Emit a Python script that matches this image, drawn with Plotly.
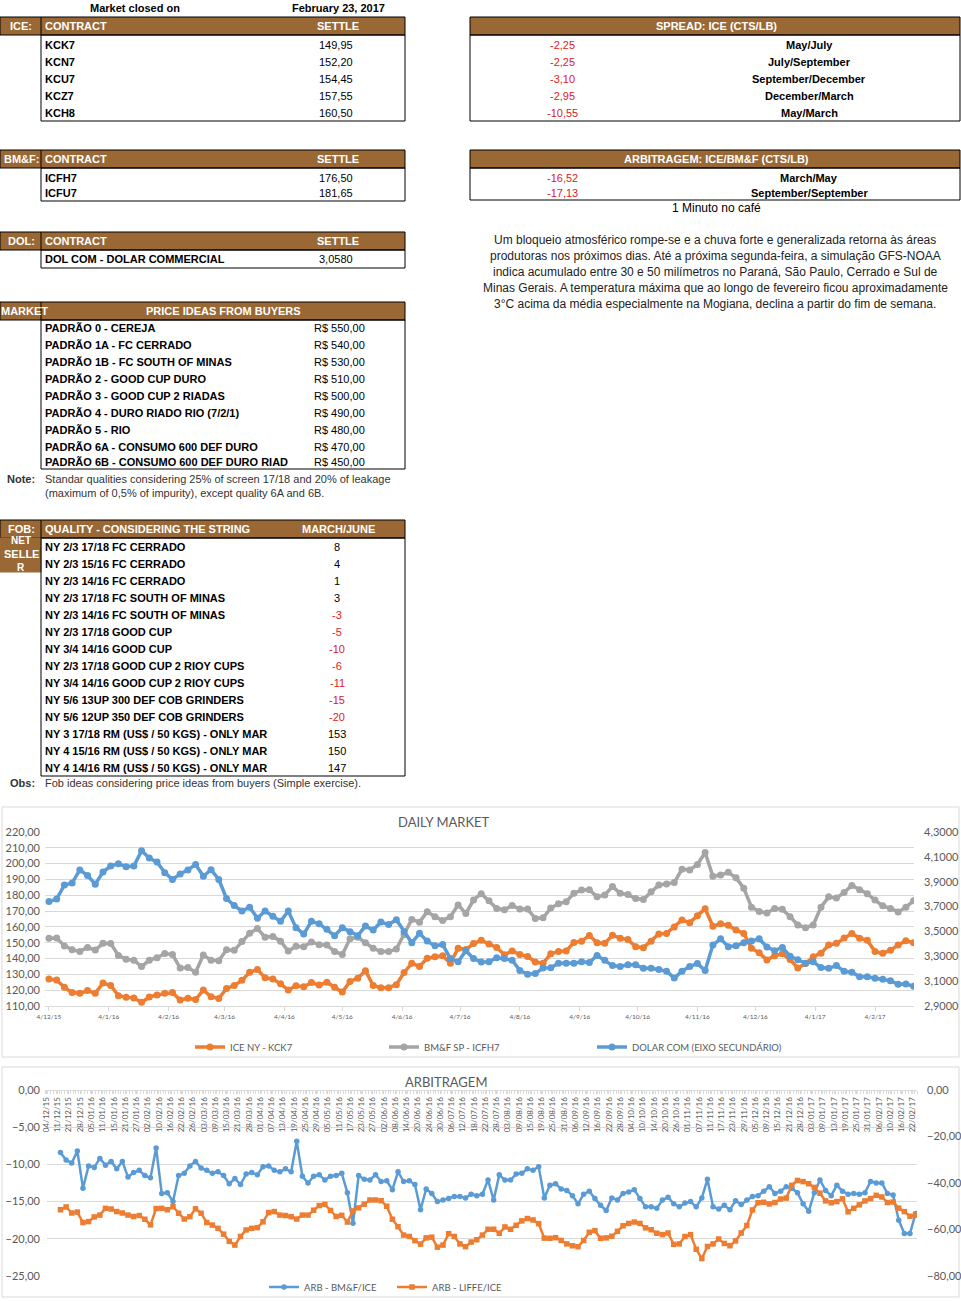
import pandas as pd
import plotly.graph_objects as go

# ---------------- report data ----------------
closed_label = "Market closed on"
closed_date = "February 23, 2017"

ice_contracts = ["KCK7", "KCN7", "KCU7", "KCZ7", "KCH8"]
ice_settle = [149.95, 152.20, 154.45, 157.55, 160.50]
bmf_contracts = ["ICFH7", "ICFU7"]
bmf_settle = [176.50, 181.65]
dol_contracts = ["DOL COM - DOLAR COMMERCIAL"]
dol_settle = [3.0580]

spread_values = [-2.25, -2.25, -3.10, -2.95, -10.55]
spread_labels = ["May/July", "July/September", "September/December", "December/March", "May/March"]
arb_values = [-16.52, -17.13]
arb_labels = ["March/May", "September/September"]

price_qualities = [
    "PADRÃO 0 - CEREJA", "PADRÃO 1A - FC CERRADO", "PADRÃO 1B - FC SOUTH OF MINAS",
    "PADRÃO 2 - GOOD CUP DURO", "PADRÃO 3 - GOOD CUP 2 RIADAS", "PADRÃO 4 - DURO RIADO RIO (7/2/1)",
    "PADRÃO 5 - RIO", "PADRÃO 6A - CONSUMO 600 DEF DURO", "PADRÃO 6B - CONSUMO 600 DEF DURO RIAD",
]
price_values = [550, 540, 530, 510, 500, 490, 480, 470, 450]
price_note = ["Standar qualities considering 25% of screen 17/18 and 20% of leakage",
              "(maximum of 0,5% of impurity), except quality 6A and 6B."]

fob_qualities = [
    "NY 2/3 17/18 FC CERRADO", "NY 2/3 15/16 FC CERRADO", "NY 2/3 14/16 FC CERRADO",
    "NY 2/3 17/18 FC SOUTH OF MINAS", "NY 2/3 14/16 FC SOUTH OF MINAS", "NY 2/3 17/18 GOOD CUP",
    "NY 3/4 14/16 GOOD CUP", "NY 2/3 17/18 GOOD CUP 2 RIOY CUPS", "NY 3/4 14/16 GOOD CUP 2 RIOY CUPS",
    "NY 5/6 13UP 300 DEF COB GRINDERS", "NY 5/6 12UP 350 DEF COB GRINDERS",
    "NY 3 17/18 RM (US$ / 50 KGS) - ONLY MAR", "NY 4 15/16 RM (US$ / 50 KGS) - ONLY MAR",
    "NY 4 14/16 RM (US$ / 50 KGS) - ONLY MAR",
]
fob_values = [8, 4, 1, 3, -3, -5, -10, -6, -11, -15, -20, 153, 150, 147]
fob_obs = "Fob ideas considering price ideas from buyers (Simple exercise)."

comment_title = "1 Minuto no café"
comment_lines = [
    "Um bloqueio atmosférico rompe-se e a chuva forte e generalizada retorna às áreas",
    "produtoras nos próximos dias. Até a próxima segunda-feira, a simulação GFS-NOAA",
    "indica acumulado entre 30 e 50 milímetros no Paraná, São Paulo, Cerrado e Sul de",
    "Minas Gerais. A temperatura máxima que ao longo de fevereiro ficou aproximadamente",
    "3°C acima da média especialmente na Mogiana, declina a partir do fim de semana.",
]

# ---------------- daily market (one reading every 4 days) ----------------
daily_dates = pd.date_range("2015-12-04", periods=113, freq="4D")
ice_ny = [
    127.1, 126.4, 121.8, 118.5, 118.0, 119.8, 118.0, 124.5, 123.0, 116.5,
    115.6, 115.0, 112.3, 115.7, 117.0, 118.0, 118.5, 113.8, 114.9, 114.1,
    120.1, 115.8, 114.8, 121.0, 123.0, 126.2, 131.3, 133.0, 127.8, 127.1,
    124.0, 120.1, 122.8, 122.2, 124.8, 123.2, 125.0, 121.8, 118.8, 125.5,
    127.6, 132.3, 123.0, 121.6, 121.6, 123.5, 131.2, 137.0, 135.0, 140.2,
    141.2, 141.8, 137.0, 146.5, 145.7, 149.5, 151.5, 149.2, 147.0, 142.4,
    144.8, 142.5, 141.3, 137.8, 137.0, 143.0, 144.5, 144.8, 150.2, 151.0,
    154.6, 150.0, 149.6, 154.8, 152.8, 152.0, 147.4, 146.9, 150.9, 155.5,
    155.9, 160.0, 164.4, 162.7, 167.0, 171.5, 160.4, 162.0, 161.0, 158.0,
    155.9, 146.5, 143.6, 139.1, 141.8, 143.0, 139.4, 134.0, 136.8, 141.2,
    143.4, 148.5, 149.6, 153.0, 155.9, 152.8, 151.5, 144.4, 143.3, 145.3,
    148.6, 151.2, 149.95,
]
bmf_sp = [
    152.8, 153.0, 148.0, 145.6, 144.5, 147.0, 145.4, 149.6, 149.5, 142.0,
    139.5, 139.0, 134.9, 139.0, 140.5, 143.2, 142.5, 134.0, 134.3, 131.3,
    142.2, 139.0, 138.6, 145.5, 145.2, 150.8, 156.0, 159.0, 153.5, 154.0,
    151.0, 144.7, 147.8, 147.5, 150.5, 148.8, 148.5, 144.5, 142.6, 152.5,
    153.5, 150.0, 146.5, 144.4, 144.4, 146.0, 155.0, 164.7, 163.0, 169.6,
    166.5, 164.0, 166.5, 173.9, 168.5, 177.0, 181.0, 176.5, 171.7, 170.8,
    173.5, 171.3, 171.3, 165.3, 165.8, 171.9, 174.6, 175.9, 181.3, 183.3,
    183.5, 179.0, 180.2, 185.5, 181.2, 180.5, 177.9, 177.4, 182.3, 186.5,
    187.2, 188.0, 196.5, 196.0, 199.5, 207.0, 192.0, 192.8, 194.5, 191.0,
    184.5, 172.5, 169.8, 168.8, 171.6, 171.2, 166.5, 161.2, 159.5, 161.2,
    172.5, 179.0, 178.2, 181.8, 186.2, 183.5, 181.0, 177.0, 173.3, 171.7,
    169.5, 172.5, 176.5,
]
dolar_com = [
    3.740, 3.760, 3.874, 3.889, 3.995, 3.950, 3.880, 3.978, 4.026, 4.045,
    4.020, 4.026, 4.150, 4.090, 4.058, 3.973, 3.918, 3.963, 3.995, 4.039,
    3.944, 3.997, 3.918, 3.765, 3.708, 3.664, 3.695, 3.606, 3.664, 3.623,
    3.581, 3.664, 3.530, 3.479, 3.581, 3.562, 3.517, 3.466, 3.530, 3.498,
    3.466, 3.543, 3.511, 3.575, 3.555, 3.594, 3.498, 3.409, 3.485, 3.422,
    3.384, 3.394, 3.282, 3.256, 3.345, 3.282, 3.254, 3.256, 3.289, 3.282,
    3.269, 3.186, 3.155, 3.161, 3.205, 3.208, 3.244, 3.244, 3.244, 3.256,
    3.250, 3.307, 3.269, 3.225, 3.218, 3.231, 3.231, 3.203, 3.204, 3.193,
    3.180, 3.125, 3.180, 3.218, 3.241, 3.186, 3.390, 3.441, 3.377, 3.384,
    3.409, 3.422, 3.441, 3.375, 3.345, 3.371, 3.301, 3.272, 3.244, 3.256,
    3.209, 3.203, 3.225, 3.180, 3.172, 3.136, 3.135, 3.123, 3.116, 3.104,
    3.074, 3.078, 3.058,
]

# ---------------- arbitragem (category axis, every 2nd session) ----------------
arb_ticktext = [
    "04/12/15", "11/12/15", "21/12/15", "28/12/15", "05/01/16", "11/01/16", "15/01/16", "21/01/16",
    "27/01/16", "02/02/16", "10/02/16", "16/02/16", "22/02/16", "26/02/16", "03/03/16", "09/03/16",
    "15/03/16", "21/03/16", "28/03/16", "01/04/16", "07/04/16", "13/04/16", "19/04/16", "25/04/16",
    "29/04/16", "05/05/16", "11/05/16", "17/05/16", "23/05/16", "27/05/16", "02/06/16", "08/06/16",
    "14/06/16", "20/06/16", "24/06/16", "30/06/16", "06/07/16", "12/07/16", "18/07/16", "22/07/16",
    "28/07/16", "03/08/16", "09/08/16", "15/08/16", "19/08/16", "25/08/16", "31/08/16", "06/09/16",
    "12/09/16", "16/09/16", "22/09/16", "28/09/16", "04/10/16", "10/10/16", "14/10/16", "20/10/16",
    "26/10/16", "01/11/16", "07/11/16", "11/11/16", "17/11/16", "23/11/16", "29/11/16", "05/12/16",
    "09/12/16", "15/12/16", "21/12/16", "28/12/16", "03/01/17", "09/01/17", "13/01/17", "19/01/17",
    "25/01/17", "31/01/17", "06/02/17", "10/02/17", "16/02/17", "22/02/17",
]
arb_sessions = list(range(5, 310, 2))
arb_bmf_ice = [
    -8.4, -9.4, -9.8, -8.2, -13.2, -10.2, -10.4, -9.2, -10.1, -9.6,
    -10.6, -9.6, -11.7, -11.1, -10.8, -11.5, -11.8, -7.8, -13.9, -13.8,
    -15.0, -11.5, -11.2, -10.2, -9.6, -10.5, -10.8, -11.2, -11.0, -11.5,
    -12.6, -11.9, -12.7, -11.3, -11.1, -11.4, -10.3, -10.2, -10.8, -11.0,
    -10.6, -11.0, -6.9, -11.6, -12.5, -11.6, -11.4, -12.1, -11.6, -11.5,
    -11.2, -13.8, -17.9, -11.5, -12.0, -12.1, -11.4, -12.3, -12.2, -13.4,
    -11.0, -12.3, -12.2, -12.7, -16.1, -13.3, -13.9, -15.0, -14.8, -14.6,
    -14.3, -14.3, -14.5, -14.0, -14.2, -14.0, -12.1, -14.8, -11.4, -12.1,
    -12.1, -11.3, -11.2, -10.6, -10.8, -10.3, -14.5, -12.8, -12.6, -13.3,
    -13.5, -14.2, -15.3, -14.0, -13.6, -14.6, -15.5, -16.2, -14.5, -14.8,
    -13.9, -13.7, -13.4, -14.6, -15.7, -15.7, -15.9, -14.8, -14.4, -15.3,
    -15.7, -15.2, -15.0, -15.7, -14.5, -12.0, -15.7, -16.0, -15.5, -16.1,
    -14.9, -15.4, -14.8, -14.3, -14.2, -13.6, -13.0, -13.9, -13.6, -13.0,
    -13.2, -13.8, -15.3, -16.3, -13.8, -12.1, -13.5, -14.2, -12.8, -13.6,
    -14.0, -13.9, -14.0, -13.8, -12.3, -12.5, -12.5, -13.9, -14.1, -17.5,
    -19.3, -19.3, -16.6,
]
arb_liffe_ice = [
    -51.5, -50.3, -52.9, -52.5, -57.0, -56.6, -54.6, -53.8, -50.9, -51.2,
    -52.3, -52.9, -53.8, -54.4, -54.0, -55.6, -58.0, -51.0, -50.9, -51.5,
    -50.2, -53.0, -55.5, -54.5, -51.1, -53.0, -57.0, -58.1, -59.5, -62.0,
    -65.1, -66.7, -63.0, -60.2, -59.5, -59.2, -56.7, -52.7, -52.3, -53.8,
    -54.0, -54.5, -55.5, -53.8, -53.8, -51.7, -49.7, -49.2, -51.8, -54.4,
    -53.9, -56.8, -52.0, -50.7, -49.1, -47.3, -47.3, -47.6, -50.0, -55.6,
    -58.8, -62.4, -63.0, -64.8, -66.3, -63.6, -63.3, -67.6, -66.7, -61.8,
    -63.0, -66.2, -67.4, -65.4, -64.4, -62.4, -59.9, -59.9, -61.6, -58.9,
    -59.9, -58.2, -56.3, -55.3, -55.9, -57.5, -63.7, -63.8, -63.5, -64.7,
    -66.2, -67.0, -67.4, -64.7, -61.2, -60.5, -63.8, -63.6, -62.9, -60.8,
    -58.4, -57.4, -56.8, -57.4, -59.3, -60.1, -61.6, -62.2, -61.5, -66.4,
    -66.2, -63.0, -62.2, -68.5, -72.5, -67.3, -66.2, -64.1, -66.0, -67.0,
    -64.9, -61.5, -58.3, -51.6, -48.5, -48.3, -49.0, -48.4, -46.9, -46.5,
    -41.0, -38.9, -39.4, -40.3, -41.9, -44.4, -47.7, -48.5, -48.0, -46.8,
    -52.4, -50.9, -49.4, -47.7, -46.7, -45.3, -46.0, -48.4, -48.2, -50.8,
    -52.3, -54.3, -53.8,
]

# ---------------- styling ----------------
W, H = 961, 1301
TFONT = "Liberation Sans"
CFONT = "Lato"
BROWN = "#9A6835"
RED = "#E0201E"
GRID = "#D9D9D9"
AXTXT = "#595959"
ORANGE, GRAY, BLUE = "#ED7D31", "#A5A5A5", "#5B9BD5"


def px(x):
    return x / W


def py(y):
    return 1 - y / H


def num(v, d=2):
    return f"{v:.{d}f}".replace(".", ",")


shapes, notes = [], []


def rect(x0, y0, x1, y1, fill=None, line="black", width=1):
    shapes.append(dict(type="rect", xref="paper", yref="paper", layer="below",
                       x0=px(x0), x1=px(x1), y0=py(y1), y1=py(y0),
                       fillcolor=fill or "rgba(0,0,0,0)", line=dict(color=line, width=width)))


def vline(x, y0, y1):
    shapes.append(dict(type="line", xref="paper", yref="paper", layer="below",
                       x0=px(x), x1=px(x), y0=py(y1), y1=py(y0), line=dict(color="black", width=1)))


def label(x, y, s, size=11, bold=False, color="black", align="left", family=TFONT):
    notes.append(dict(xref="paper", yref="paper", x=px(x), y=py(y), showarrow=False,
                      text=f"<b>{s}</b>" if bold else s, xanchor=align, yanchor="middle",
                      borderpad=0, font=dict(family=family, size=size, color=color)))


# header line
label(135, 8, closed_label, bold=True, align="center")
label(338, 8, closed_date, bold=True, align="center")


def settle_table(top, tag, names, values, row_y, bottom, digits=2):
    rect(0, top, 405, top + 18, fill=BROWN)
    rect(41, top + 18, 405, bottom)
    vline(41, top, top + 18)
    label(21, top + 9, tag, bold=True, color="white", align="center")
    label(44, top + 9, "CONTRACT", bold=True, color="white")
    label(338, top + 9, "SETTLE", bold=True, color="white", align="center")
    for y, n, v in zip(row_y, names, values):
        label(44, y, n, bold=True)
        label(336, y, num(v, digits), align="center")


settle_table(17, "ICE:", ice_contracts, ice_settle, [45, 62, 79, 96, 113], 121)
settle_table(150, "BM&F:", bmf_contracts, bmf_settle, [178, 193], 201)
settle_table(232, "DOL:", dol_contracts, dol_settle, [259], 268, digits=4)


def spread_table(top, title, values, names, row_y, bottom):
    rect(470, top, 960, top + 18, fill=BROWN)
    rect(470, top + 18, 960, bottom)
    label(716, top + 9, title, bold=True, color="white", align="center")
    for y, v, n in zip(row_y, values, names):
        label(562, y, num(v), color=RED, align="center")
        label(809, y, n, bold=True, align="center")


spread_table(17, "SPREAD: ICE (CTS/LB)", spread_values, spread_labels, [45, 62, 79, 96, 113], 121)
spread_table(150, "ARBITRAGEM: ICE/BM&F (CTS/LB)", arb_values, arb_labels, [178, 193], 200)

label(716, 208, comment_title, size=12, align="center")
for i, line in enumerate(comment_lines):
    label(715, 240 + 16 * i, line, size=12, color="#222222", align="center")

# price ideas
rect(0, 302, 405, 320, fill=BROWN)
rect(41, 320, 405, 469)
vline(41, 302, 320)
label(0, 311, "MARKET", bold=True, color="white")
label(223, 311, "PRICE IDEAS FROM BUYERS", bold=True, color="white", align="center")
price_y = [328, 345, 362, 379, 396, 413, 430, 447, 462]
for y, q, v in zip(price_y, price_qualities, price_values):
    label(44, y, q, bold=True)
    label(313, y, "R$ " + num(v))
label(36, 479, "Note:", bold=True, color="#333333", align="right")
label(44, 479, price_note[0], color="#333333")
label(44, 493, price_note[1], color="#333333")

# fob
rect(0, 520, 405, 538, fill=BROWN)
rect(0, 538, 41, 572, fill=BROWN, line=BROWN)
rect(41, 538, 405, 776)
vline(41, 520, 538)
label(21, 529, "FOB:", bold=True, color="white", align="center")
label(44, 529, "QUALITY - CONSIDERING THE STRING", bold=True, color="white")
label(338, 529, "MARCH/JUNE", bold=True, color="white", align="center")
label(21, 541, "NET", bold=True, color="white", align="center", size=10)
label(21, 554, "SELLE", bold=True, color="white", align="center")
label(21, 567, "R", bold=True, color="white", align="center", size=10)
for i, (q, v) in enumerate(zip(fob_qualities, fob_values)):
    y = 547 + 17 * i
    label(44, y, q, bold=True)
    label(337, y, str(v), color=RED if v < 0 else "black", align="center")
label(36, 783, "Obs:", bold=True, color="#333333", align="right")
label(44, 783, fob_obs, color="#333333")

# chart frames and titles
rect(2, 807, 959, 1057, line=GRID)
rect(2, 1067, 959, 1297, line=GRID)
label(444, 822, "DAILY MARKET", size=13, color=AXTXT, align="center", family=CFONT)
label(446, 1082, "ARBITRAGEM", size=13, color=AXTXT, align="center", family=CFONT)

fig = go.Figure()

fig.add_trace(go.Scatter(x=daily_dates, y=ice_ny, name="ICE NY - KCK7", mode="lines+markers",
                         line=dict(color=ORANGE, width=3.5), marker=dict(size=7, color=ORANGE),
                         xaxis="x", yaxis="y", legend="legend"))
fig.add_trace(go.Scatter(x=daily_dates, y=bmf_sp, name="BM&F SP - ICFH7", mode="lines+markers",
                         line=dict(color=GRAY, width=3.5), marker=dict(size=7, color=GRAY),
                         xaxis="x", yaxis="y", legend="legend2"))
fig.add_trace(go.Scatter(x=daily_dates, y=dolar_com, name="DOLAR COM (EIXO SECUNDÁRIO)",
                         mode="lines+markers", line=dict(color=BLUE, width=3.5),
                         marker=dict(size=7, color=BLUE), xaxis="x", yaxis="y2", legend="legend3"))
fig.add_trace(go.Scatter(x=arb_sessions, y=arb_liffe_ice, name="ARB - LIFFE/ICE", mode="lines+markers",
                         line=dict(color=ORANGE, width=2.5), marker=dict(size=5.5, symbol="square", color=ORANGE),
                         xaxis="x2", yaxis="y4", legend="legend5"))
fig.add_trace(go.Scatter(x=arb_sessions, y=arb_bmf_ice, name="ARB - BM&F/ICE", mode="lines+markers",
                         line=dict(color=BLUE, width=2.5), marker=dict(size=5.5, color=BLUE),
                         xaxis="x2", yaxis="y3", legend="legend4"))

tick_font = dict(family=CFONT, size=11, color=AXTXT)
legend_base = dict(orientation="h", xanchor="left", yanchor="middle", itemwidth=30, visible=True,
                   bgcolor="rgba(0,0,0,0)", font=dict(family=CFONT, size=9.5, color=AXTXT))

fig.update_layout(
    width=W, height=H, margin=dict(l=0, r=0, t=0, b=0, autoexpand=False),
    paper_bgcolor="white", plot_bgcolor="rgba(0,0,0,0)", showlegend=True,
    separators=",.", shapes=shapes, annotations=notes,
    xaxis=dict(domain=[px(45), px(914)], anchor="y", type="date", automargin=False,
               range=["2015-12-01 23:00", "2017-02-24 05:00"],
               tick0="2015-12-04", dtick="M1", tickformat="%-d/%-m/%y",
               tickfont=dict(family=CFONT, size=6.5, color=AXTXT), showgrid=False,
               showline=True, linecolor=GRID, ticks="outside", ticklen=4, tickcolor=GRID),
    yaxis=dict(domain=[py(1006), py(832)], anchor="x", range=[110, 220], dtick=10,
               tickformat=".2f", tickfont=tick_font, gridcolor=GRID, zeroline=False,
               ticklabelstandoff=4, automargin=False),
    yaxis2=dict(overlaying="y", side="right", anchor="x", range=[2.9, 4.3], tick0=2.9, dtick=0.2,
                tickformat=".4f", tickfont=tick_font, showgrid=False, zeroline=False,
                ticklabelstandoff=9, automargin=False),
    xaxis2=dict(domain=[px(45), px(917)], anchor="free", position=py(1090), side="bottom",
                range=[-0.5, 309.5], tickmode="array", tickvals=list(range(0, 309, 4)),
                ticktext=arb_ticktext, tickangle=-90, automargin=False,
                tickfont=dict(family=CFONT, size=8, color=AXTXT), showgrid=False,
                showline=True, linecolor=GRID, ticks="outside", ticklen=3, tickcolor=GRID,
                minor=dict(tickmode="linear", tick0=-0.5, dtick=1, ticks="outside",
                           ticklen=3, tickcolor=GRID)),
    yaxis3=dict(domain=[py(1276), py(1090)], anchor="x2", range=[-25, 0], dtick=5,
                tickformat=".2f", tickfont=tick_font, gridcolor=GRID, zeroline=False,
                ticklabelstandoff=4, automargin=False),
    yaxis4=dict(overlaying="y3", side="right", anchor="x2", range=[-80, 0], dtick=20,
                tickformat=".2f", tickfont=tick_font, showgrid=False, zeroline=False,
                ticklabelstandoff=9, automargin=False),
    legend=dict(legend_base, x=px(190), y=py(1047)),
    legend2=dict(legend_base, x=px(384), y=py(1047)),
    legend3=dict(legend_base, x=px(592), y=py(1047)),
    legend4=dict(legend_base, x=px(264), y=py(1287)),
    legend5=dict(legend_base, x=px(392), y=py(1287)),
)

# the page's default body margin would push the 961x1301 figure out of the window
fig.write_html("out.html", config={"displayModeBar": False},
               post_script="document.body.style.margin = '0px';")
